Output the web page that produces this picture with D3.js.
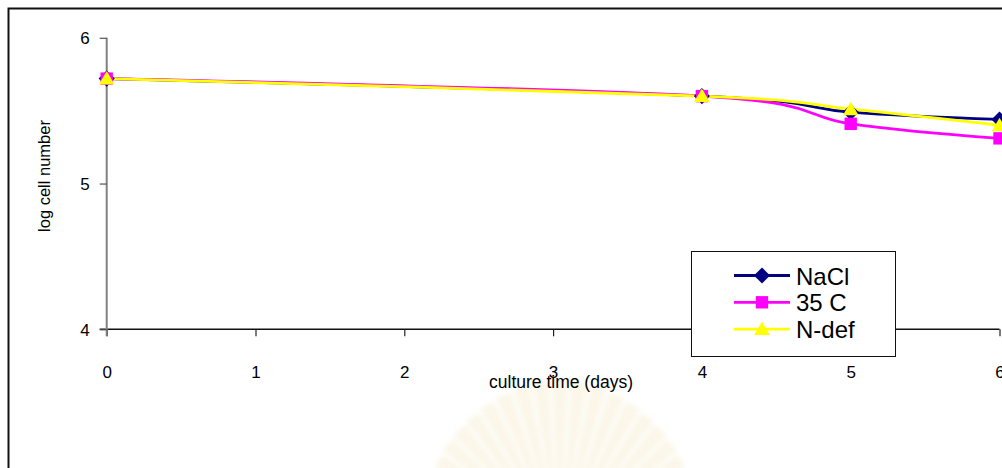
<!DOCTYPE html>
<html>
<head>
<meta charset="utf-8">
<script src="https://cdn.jsdelivr.net/npm/d3@7"></script>
<style>
  html, body { margin: 0; padding: 0; background: #fff; }
  svg { display: block; font-family: Arial, "Liberation Sans", sans-serif; }
</style>
</head>
<body>
<svg id="chart" width="1002" height="468"></svg>
<script>
// Culture time (days) at which cell counts were taken
const days = [0, 4, 5, 6];
// log cell number for each stress condition
const nacl = [5.72, 5.60, 5.49, 5.44];
const c35  = [5.72, 5.60, 5.41, 5.31];
const ndef = [5.72, 5.60, 5.51, 5.40];
const seriesNames = ["NaCl", "35 C", "N-def"];
const xTicks = [0, 1, 2, 3, 4, 5, 6];
const yTicks = [4, 5, 6];

const svg = d3.select("#chart");
const W = 1002, H = 468;

// faint emblem in the page background
const defs = svg.append("defs");
defs.append("filter").attr("id", "soft")
  .attr("x", "-20%").attr("y", "-20%").attr("width", "140%").attr("height", "140%")
  .append("feGaussianBlur").attr("stdDeviation", 2.5);
const emblem = svg.append("g").attr("transform", "translate(560,545)")
  .attr("filter", "url(#soft)").attr("opacity", 0.22);
const rays = d3.range(-10, 11);
emblem.selectAll("path").data(rays).join("path")
  .attr("d", i => {
    const a = i * 0.12;
    const w = 0.05;
    const r0 = 20, r1 = 168 - Math.abs(i) * 2.5;
    const p = (ang, r) => [r * Math.sin(ang), -r * Math.cos(ang)];
    const pts = [p(a - w * 0.4, r0), p(a - w, r1), p(a + w, r1), p(a + w * 0.4, r0)];
    return "M" + pts.map(q => q.join(",")).join("L") + "Z";
  })
  .attr("fill", "#ecd89a");

// outer frame
svg.append("rect")
  .attr("x", 8.5).attr("y", 8.5)
  .attr("width", W + 20).attr("height", H + 20)
  .attr("fill", "none").attr("stroke", "#111").attr("stroke-width", 2);

const x = d3.scaleLinear().domain([0, 6]).range([106.7, 999.5]);
const y = d3.scaleLinear().domain([4, 6]).range([329.3, 37.8]);

// x axis
const xAxis = svg.append("g").attr("transform", `translate(0,${y(4)})`)
  .call(d3.axisBottom(x).tickValues(xTicks).tickSize(7).tickSizeOuter(0).tickFormat(d3.format("d")));
xAxis.select(".domain").attr("stroke", "#111").attr("stroke-width", 1.5)
  .attr("d", `M${x(0) - 7},0H${x(6)}`);
xAxis.selectAll(".tick line").attr("stroke", "#222").attr("stroke-width", 1.2);
xAxis.selectAll(".tick text").attr("font-size", 17).attr("fill", "#000")
  .attr("y", 0).attr("dy", 0).attr("transform", "translate(0,49)");

// y axis
const yAxis = svg.append("g").attr("transform", `translate(${x(0)},0)`)
  .call(d3.axisLeft(y).tickValues(yTicks).tickSize(7).tickSizeOuter(0).tickFormat(d3.format("d")));
yAxis.select(".domain").attr("stroke", "#808080").attr("stroke-width", 2)
  .attr("d", `M0,${y(6)}V${y(4) + 7}`);
yAxis.selectAll(".tick line").attr("stroke", "#555").attr("stroke-width", 1.2);
yAxis.selectAll(".tick text").attr("font-size", 17).attr("fill", "#000")
  .attr("x", -17).attr("dy", "0.36em");

// axis titles
svg.append("text").attr("x", 561).attr("y", 388)
  .attr("text-anchor", "middle").attr("font-size", 17.5).attr("fill", "#000")
  .text("culture time (days)");
svg.append("text").attr("transform", "translate(49.5,176) rotate(-90)")
  .attr("text-anchor", "middle").attr("font-size", 16.5).attr("fill", "#000")
  .text("log cell number");

// series
const series = [
  { name: seriesNames[0], values: nacl, color: "#000080", symbol: d3.symbolDiamond2, size: 165 },
  { name: seriesNames[1], values: c35,  color: "#ff00ff", symbol: d3.symbolSquare2,  size: 195 },
  { name: seriesNames[2], values: ndef, color: "#ffff00", symbol: d3.symbolTriangle2, size: 175 }
];

const line = d3.line()
  .x((d, i) => x(days[i]))
  .y(d => y(d))
  .curve(d3.curveCardinal.tension(0));

const sym = (s) => d3.symbol().type(s.symbol).size(s.size)();

series.forEach(s => {
  svg.append("path").attr("d", line(s.values))
    .attr("fill", "none").attr("stroke", s.color).attr("stroke-width", 2.8);
});
series.forEach(s => {
  svg.append("g").selectAll("path").data(s.values).join("path")
    .attr("transform", (d, i) => `translate(${x(days[i])},${y(d) + (s.symbol === d3.symbolTriangle2 ? 1.5 : 0)})`)
    .attr("d", sym(s))
    .attr("fill", s.color);
});

// legend
const lg = svg.append("g");
lg.append("rect").attr("x", 691.5).attr("y", 251.5).attr("width", 204).attr("height", 105)
  .attr("fill", "#fff").attr("stroke", "#111").attr("stroke-width", 1);
series.forEach((s, i) => {
  const cy = 275.5 + i * 26.8;
  lg.append("line").attr("x1", 734).attr("x2", 790).attr("y1", cy).attr("y2", cy)
    .attr("stroke", s.color).attr("stroke-width", 2.8);
  lg.append("path").attr("transform", `translate(762,${cy + (s.symbol === d3.symbolTriangle2 ? 1.5 : 0)})`)
    .attr("d", sym(s)).attr("fill", s.color);
  lg.append("text").attr("x", 796).attr("y", cy + 9).attr("font-size", 24).attr("fill", "#000")
    .text(s.name);
});
</script>
</body>
</html>
